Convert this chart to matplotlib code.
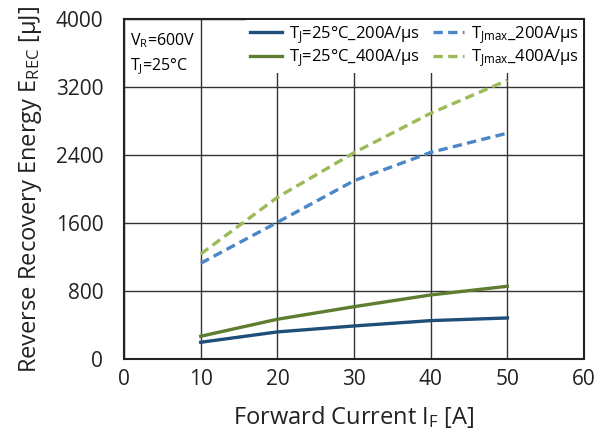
import matplotlib.pyplot as plt

plt.rcParams['font.family'] = ['Open Sans', 'DejaVu Sans']
plt.rcParams['mathtext.fontset'] = 'custom'
plt.rcParams['mathtext.rm'] = 'Open Sans'
plt.rcParams['mathtext.it'] = 'Open Sans'

current = [10, 20, 30, 40, 50]
e_25c_200 = [196, 318, 388, 451, 482]
e_25c_400 = [267, 467, 615, 753, 855]
e_max_200 = [1126, 1608, 2098, 2431, 2658]
e_max_400 = [1235, 1902, 2427, 2892, 3280]

x_ticks = [0, 10, 20, 30, 40, 50, 60]
y_ticks = [0, 800, 1600, 2400, 3200, 4000]

fig = plt.figure(figsize=(6.11, 4.34), dpi=100)
ax = fig.add_axes([0.203, 0.173, 0.753, 0.783])

ax.plot(current, e_25c_200, color='#1f4e79', lw=2.4,
        label=r'$\mathregular{T_J}$=25°C_200A/μs')
ax.plot(current, e_25c_400, color='#5e7d31', lw=2.4,
        label=r'$\mathregular{T_J}$=25°C_400A/μs')
ax.plot(current, e_max_200, color='#4a86c8', lw=2.4, ls=(0, (2.8, 1.6)),
        label=r'$\mathregular{T_{Jmax}}$_200A/μs')
ax.plot(current, e_max_400, color='#9bbb59', lw=2.4, ls=(0, (2.8, 1.6)),
        label=r'$\mathregular{T_{Jmax}}$_400A/μs')

ax.set_xlim(0, 60)
ax.set_ylim(0, 4000)
ax.set_xticks(x_ticks)
ax.set_yticks(y_ticks)
ax.grid(True, color='#333333', lw=1)
ax.tick_params(length=0, labelsize=15, colors='#222222')
ax.tick_params(axis='y', pad=15)
ax.tick_params(axis='x', pad=7)
for s in ax.spines.values():
    s.set_linewidth(1.5)
    s.set_color('#222222')

ax.set_xlabel(r'Forward Current $\mathregular{I_F}$ [A]', fontsize=17, labelpad=10, color='#222222')
ax.set_ylabel(r'Reverse Recovery Energy $\mathregular{E_{REC}}$ [μJ]', fontsize=17, labelpad=8, color='#222222')

ax.text(0.012, 0.965, r'$\mathregular{V_R}$=600V' + '\n' + r'$\mathregular{T_J}$=25°C',
        transform=ax.transAxes, fontsize=11.5, va='top', ha='left', linespacing=1.5)

leg = ax.legend(loc='upper right', ncol=2, fontsize=12, frameon=True, fancybox=False,
                edgecolor='none', framealpha=1, borderpad=0.25, handlelength=1.9,
                handletextpad=0.4, columnspacing=0.8, labelspacing=0.1,
                borderaxespad=0.05)
leg.get_frame().set_linewidth(0)

fig.savefig('out.png', dpi=100)
